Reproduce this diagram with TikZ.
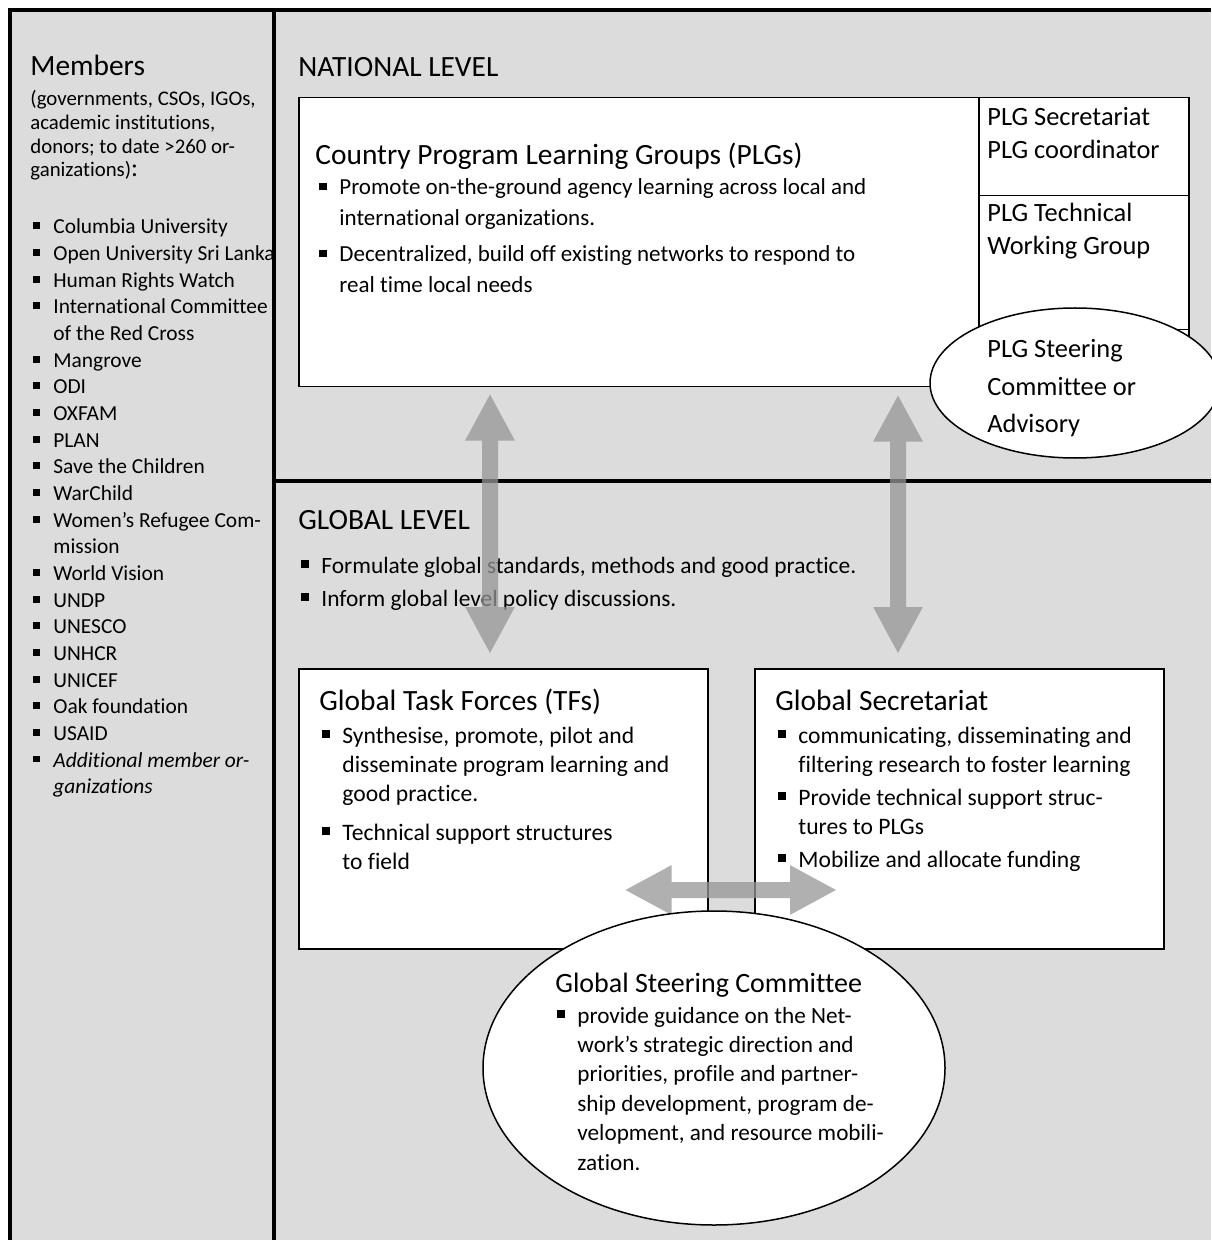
\documentclass[tikz,border=0pt]{standalone}
\usepackage{fontspec}
\setmainfont{Carlito}[Ligatures=NoCommon]
\usetikzlibrary{positioning, shapes.geometric, arrows.meta}

\definecolor{panelgray}{RGB}{220,220,220}
\definecolor{arrowgray}{RGB}{150,150,150}

% square bullet with hanging indent
\newcommand{\bul}{\hangindent=10pt\hangafter=1\relax\makebox[10pt][l]{\rule[0.22em]{0.32em}{0.32em}}}

\tikzset{
  frame line/.style={line width=2pt},
  panel/.style={draw, fill=white, line width=0.75pt, inner sep=0pt, anchor=north west},
  oval/.style={ellipse, draw, fill=white, line width=0.75pt, inner sep=0pt},
  headtext/.style={anchor=base west, inner sep=0pt, font=\fontsize{14.7}{17}\selectfont},
  listtext/.style={anchor=base west, inner sep=0pt, align=flush left, text width=#1},
  pargap/.style={execute at begin node={\setlength{\parskip}{#1}}},
  twoway/.style={arrowgray, line width=8pt,
    {Triangle[length=23.5pt,width=23pt]}-{Triangle[length=23.5pt,width=23pt]}}
}

\begin{document}
\begin{tikzpicture}[x=0.5pt, y=-0.5pt]
  \useasboundingbox (0,0) rectangle (1211,1240);
  \fill[panelgray] (10,10) rectangle (1211,1240);

  % members column
  \node[headtext] (members) at (30,76) {Members};
  \node[listtext=125pt, font=\fontsize{10.4}{11.8}\selectfont] (memnote) at (30,106)
    {(governments, CSOs, IGOs,\\academic institutions,\\donors; to date >260 or-\\ganizations){\fontsize{13}{11.8}\selectfont:}};
  \node[listtext=130pt, font=\fontsize{10.7}{13.33}\selectfont] (memlist) at (33,234) {%
    \bul Columbia University\par
    \bul Open University Sri Lanka\par
    \bul Human Rights Watch\par
    \bul International Committee\newline of the Red Cross\par
    \bul Mangrove\par
    \bul ODI\par
    \bul OXFAM\par
    \bul PLAN\par
    \bul Save the Children\par
    \bul WarChild\par
    \bul Women’s Refugee Com-\newline mission\par
    \bul World Vision\par
    \bul UNDP\par
    \bul UNESCO\par
    \bul UNHCR\par
    \bul UNICEF\par
    \bul Oak foundation\par
    \bul USAID\par
    \bul \textit{Additional member or-\newline ganizations}\par};

  % frame
  \draw[frame line] (10,1240) -- (10,10) -- (1211,10);
  \draw[frame line] (274,10) -- (274,1240);
  \draw[frame line] (274,481) -- (1211,481);

  % national level
  \node[headtext] (natlabel) at (298,77) {NATIONAL LEVEL};
  \node[panel, minimum width=445pt, minimum height=144.5pt] (natbox) at (298,97) {};
  \node[panel, minimum width=105pt, minimum height=49pt] (plgsec) at (978,97) {};
  \node[panel, minimum width=105pt, minimum height=67pt] (plgtwg) at (978,195) {};
  \node[oval, minimum width=145pt, minimum height=75pt] (plgsc) at (1075,383) {};
  \node[headtext] (plgtitle) at (315,165) {Country Program Learning Groups (PLGs)};
  \node[listtext=300pt, font=\fontsize{11.5}{15.5}\selectfont, pargap=2.5pt] (plglist) at (319,195) {%
    \bul Promote on-the-ground agency learning across local and\newline international organizations.\par
    \bul Decentralized, build off existing networks to respond to\newline real time local needs\par};
  \node[listtext=100pt, font=\fontsize{13.2}{16.5}\selectfont] (plgsectext) at (987,126)
    {PLG Secretariat\\PLG coordinator};
  \node[listtext=100pt, font=\fontsize{13.2}{16.5}\selectfont] (plgtwgtext) at (987,222)
    {PLG Technical\\Working Group};
  \node[listtext=100pt, font=\fontsize{13.2}{18.5}\selectfont] (plgsctext) at (987,358)
    {PLG Steering\\Committee or\\Advisory};

  % global level
  \node[headtext] (globlabel) at (298,529) {GLOBAL LEVEL};
  \node[listtext=300pt, font=\fontsize{11.7}{16.5}\selectfont] (globlist) at (301,573) {%
    \bul Formulate global standards, methods and good practice.\par
    \bul Inform global level policy discussions.\par};
  \node[panel, minimum width=204.5pt, minimum height=140pt] (tfbox) at (298,668) {};
  \node[panel, minimum width=204.5pt, minimum height=140pt] (secbox) at (754,668) {};
  \node[headtext] (tftitle) at (319,710) {Global Task Forces (TFs)};
  \node[listtext=190pt, font=\fontsize{11.8}{14.5}\selectfont, pargap=5pt] (tflist) at (322,743) {%
    \bul Synthesise, promote, pilot and\newline disseminate program learning and\newline good practice.\par
    \bul Technical support structures\newline to field\par};
  \node[headtext] (sectitle) at (775,710) {Global Secretariat};
  \node[listtext=190pt, font=\fontsize{11.8}{14.5}\selectfont, pargap=2pt] (seclist) at (778,743) {%
    \bul communicating, disseminating and\newline filtering research to foster learning\par
    \bul Provide technical support struc-\newline tures to PLGs\par
    \bul Mobilize and allocate funding\par};

  % two-way arrows
  \coordinate (arrL) at (490,0);
  \coordinate (arrR) at (898,0);
  \coordinate (arrH) at (0,890);
  \begin{scope}[transparency group, opacity=0.75]
    \draw[twoway, shorten <=3pt, shorten >=7pt] (natbox.south -| arrL) -- (tfbox.north -| arrL);
    \draw[twoway, shorten <=3.5pt, shorten >=7pt] (natbox.south -| arrR) -- (secbox.north -| arrR);
    \draw[twoway, shorten <=-42pt, shorten >=-41.5pt] (tfbox.east |- arrH) -- (secbox.west |- arrH);
  \end{scope}

  % global steering committee
  \node[oval, minimum width=231pt, minimum height=157pt] (gsc) at (714,1068) {};
  \node[headtext, font=\fontsize{14}{17}\selectfont] (gsctitle) at (555,992) {Global Steering Committee};
  \node[listtext=185pt, font=\fontsize{11.6}{14.7}\selectfont] (gsclist) at (557,1023) {%
    \bul provide guidance on the Net-\newline work’s strategic direction and\newline priorities, profile and partner-\newline ship development, program de-\newline velopment, and resource mobili-\newline zation.\par};
\end{tikzpicture}
\end{document}
